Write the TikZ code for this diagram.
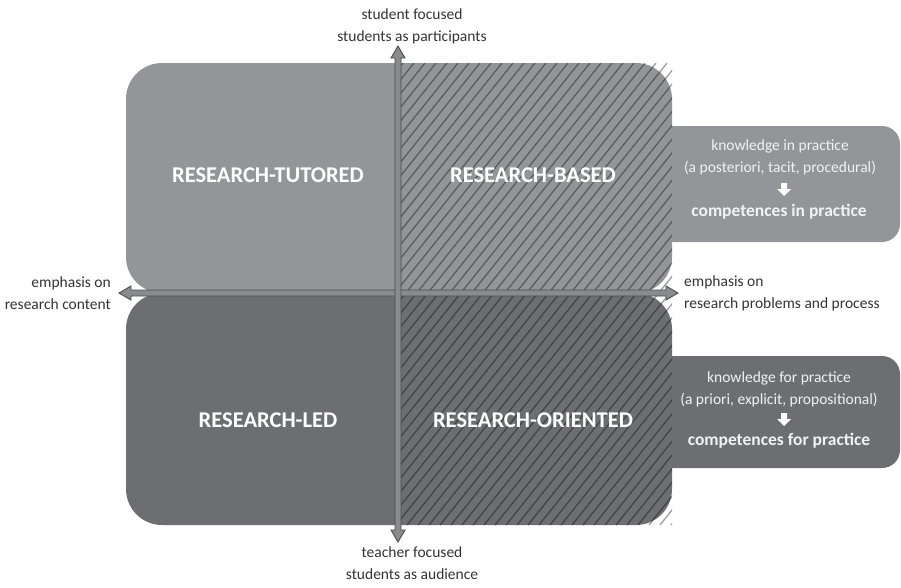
\documentclass[tikz,border=0pt]{standalone}
\usepackage{fontspec}
\setmainfont{Carlito}
\usetikzlibrary{calc}
\definecolor{lightq}{HTML}{939598}
\definecolor{darkq}{HTML}{6D6E71}
\definecolor{axisfill}{HTML}{8A8B8E}
\definecolor{axisline}{HTML}{4A4B4D}
\definecolor{labeltxt}{HTML}{333333}
\definecolor{boxtxt}{HTML}{F2F2F2}
\tikzset{
  quad/.style={rounded corners=36pt},
  quadlabel/.style={font=\fontsize{22.5}{26}\selectfont\bfseries, text=white},
  axislabel/.style={font=\fontsize{15.5}{22}\selectfont, text=labeltxt, align=center, inner sep=0pt},
  sidebox/.style={rounded corners=18pt},
  sidetext/.style={font=\fontsize{15.5}{22}\selectfont, text=boxtxt, align=center, inner sep=0pt},
  sidebold/.style={font=\fontsize{17.5}{20}\selectfont\bfseries, text=boxtxt, inner sep=0pt},
  hatchline/.style={draw=black, draw opacity=0.38, line width=1.3pt},
  axisarrow/.style={fill=axisfill, draw=axisline, line width=0.9pt, line join=miter}
}
\begin{document}
\begin{tikzpicture}[x=1pt,y=-1pt]
\useasboundingbox (0,0) rectangle (901,587);
% side boxes (behind)
\fill[lightq, sidebox] (640,126) rectangle (900,242);
\fill[darkq, sidebox] (640,356) rectangle (900,468);
% quadrants
\fill[lightq, quad] (126,63) rectangle (672,293);
\fill[darkq, quad] (126,293) rectangle (672,525);
% hatching on the right half
\begin{scope}
  \clip (400,63) rectangle (672,525);
  \foreach \i in {-400,-389,...,300} {
    \draw[hatchline] (400+\i,525) -- (400+\i+370,63);
  }
\end{scope}
% quadrant labels
\node[quadlabel] (tut) at (268,175) {RESEARCH-TUTORED};
\node[quadlabel] (bas) at (533,175) {RESEARCH-BASED};
\node[quadlabel] (led) at (268,420) {RESEARCH-LED};
\node[quadlabel] (ori) at (533,420) {RESEARCH-ORIENTED};
% axes
\coordinate (left) at (119,293);
\coordinate (right) at (678,293);
\coordinate (top) at (398,46);
\coordinate (bottom) at (398,542);
\path[axisarrow] (left) -- ($(left)+(12,-7)$) -- ($(left)+(12,-3)$) -- ($(right)+(-12,-3)$) -- ($(right)+(-12,-7)$) -- (right) -- ($(right)+(-12,7)$) -- ($(right)+(-12,3)$) -- ($(left)+(12,3)$) -- ($(left)+(12,7)$) -- cycle;
\path[axisarrow] (top) -- ($(top)+(7,12)$) -- ($(top)+(3,12)$) -- ($(bottom)+(3,-12)$) -- ($(bottom)+(7,-12)$) -- (bottom) -- ($(bottom)+(-7,-12)$) -- ($(bottom)+(-3,-12)$) -- ($(top)+(-3,12)$) -- ($(top)+(-7,12)$) -- cycle;
% axis labels
\node[axislabel, anchor=south] (toplab) at (412,44) {student focused\\students as participants};
\node[axislabel, anchor=north] (botlab) at (412,547) {teacher focused\\students as audience};
\node[axislabel, anchor=east, align=right] (leftlab) at (111,293) {emphasis on\\research content};
\node[axislabel, anchor=west, align=left] (rightlab) at (684,293) {emphasis on\\research problems and process};
% side box texts
\node[sidetext] (kin) at (780,157) {knowledge in practice\\(a posteriori, tacit, procedural)};
\fill[white] (781,183) rectangle (787,189) -- (791,189) -- (784,196) -- (777,189) -- (781,189) -- cycle;
\node[sidebold] (cin) at (779,212) {competences in practice};
\node[sidetext] (kfor) at (779,389) {knowledge for practice\\(a priori, explicit, propositional)};
\fill[white] (781,413) rectangle (787,419) -- (791,419) -- (784,426) -- (777,419) -- (781,419) -- cycle;
\node[sidebold] (cfor) at (779,441) {competences for practice};
\end{tikzpicture}
\end{document}
